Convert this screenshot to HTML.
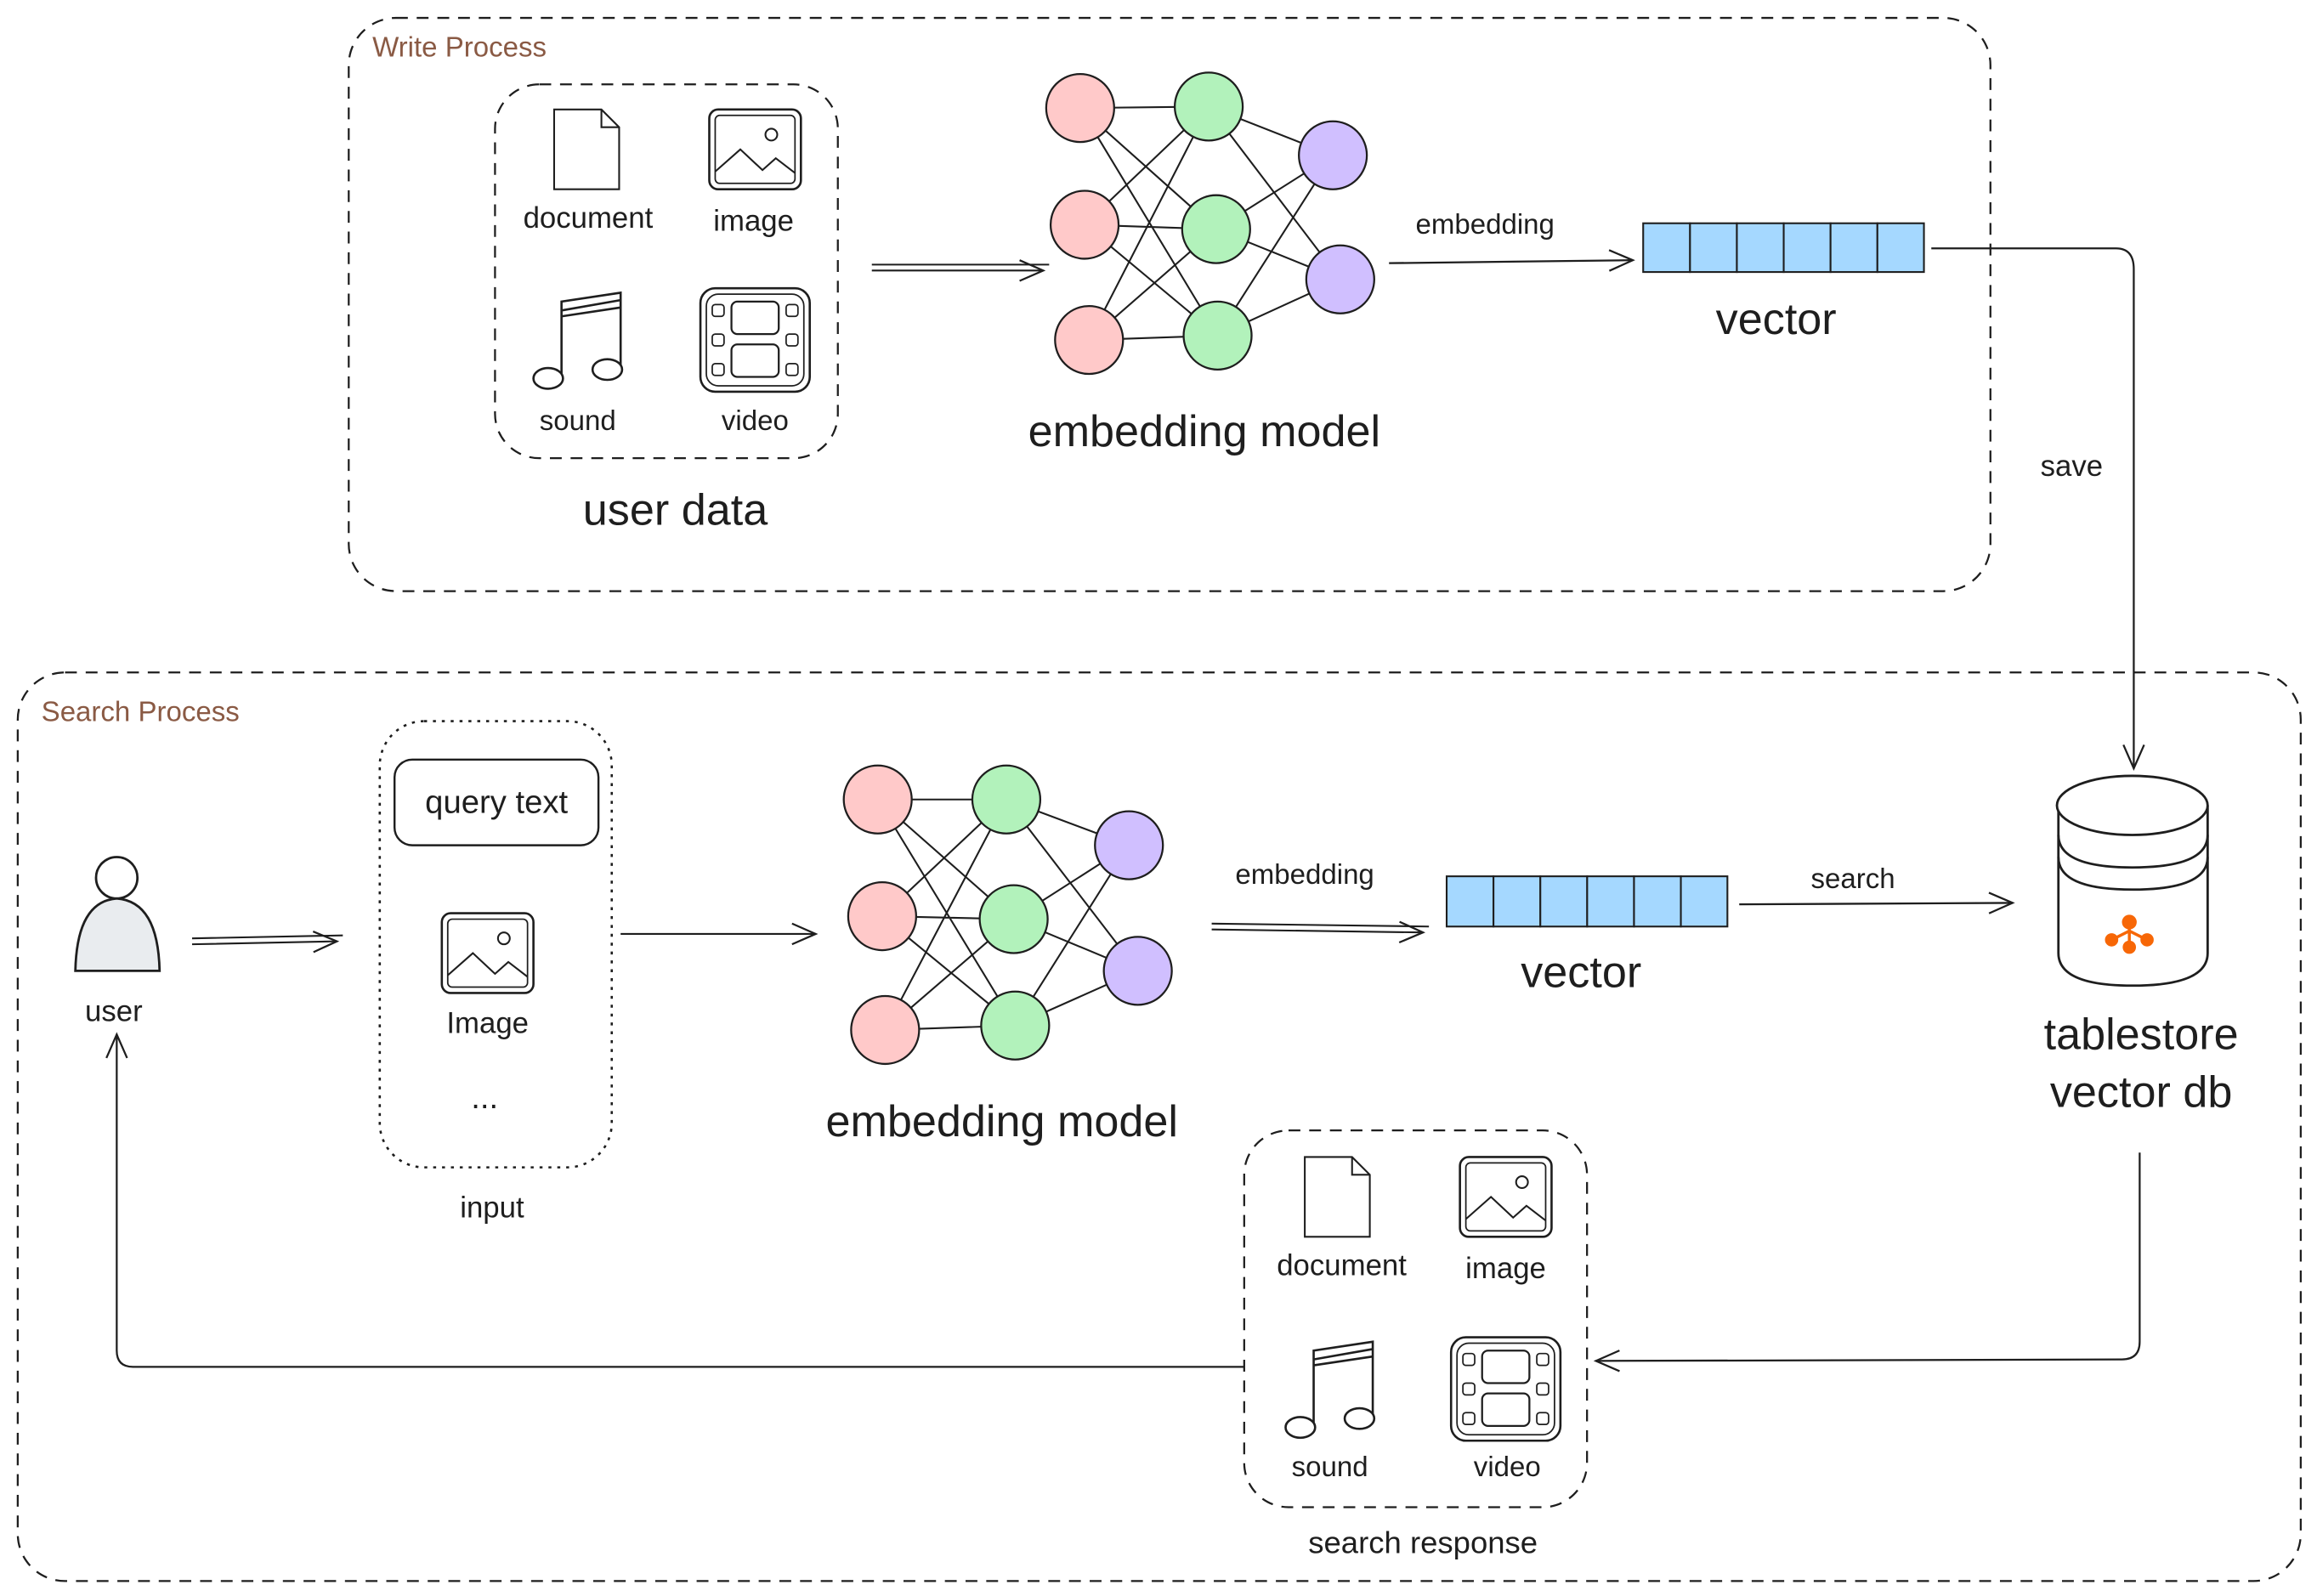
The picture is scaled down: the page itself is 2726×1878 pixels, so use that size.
<!DOCTYPE html>
<html><head><meta charset="utf-8"><style>
html,body{margin:0;padding:0;background:#fff;}
svg{display:block;}
text{font-family:"Liberation Sans",sans-serif;fill:#1e1e1e;text-anchor:middle;}
</style></head><body>
<svg width="2726" height="1878" viewBox="0 0 1568 1080" xmlns="http://www.w3.org/2000/svg">
<defs>
<marker id="ah" markerWidth="20" markerHeight="20" refX="18" refY="10" orient="auto" markerUnits="userSpaceOnUse">
<path d="M2,3 L18,10 L2,17" fill="none" stroke="#1e1e1e" stroke-width="1.3"/>
</marker>
<g id="doc"><path d="M-22,-27 H10 L22,-15 V27 H-22 Z M10,-27 V-15 H22" fill="#fff" stroke="#1e1e1e" stroke-width="1.2"/></g>
<g id="img"><rect x="-31" y="-27" width="62" height="54" rx="6" fill="#fff" stroke="#1e1e1e" stroke-width="1.5"/><rect x="-27" y="-23" width="54" height="46" rx="3" fill="none" stroke="#1e1e1e" stroke-width="1"/><circle cx="11" cy="-10" r="4" fill="none" stroke="#1e1e1e" stroke-width="1.2"/><path d="M-27,15 L-10,0 L5,14 L14,6 L27,16" fill="none" stroke="#1e1e1e" stroke-width="1.2"/></g>
<g id="snd"><path d="M-12,22 V-28 L28,-34 V16 M-12,-18 L28,-24 M-12,-22 L28,-29" fill="none" stroke="#1e1e1e" stroke-width="1.5"/><ellipse cx="-21" cy="24" rx="10" ry="7" fill="#fff" stroke="#1e1e1e" stroke-width="1.5"/><ellipse cx="19" cy="18" rx="10" ry="7" fill="#fff" stroke="#1e1e1e" stroke-width="1.5"/></g>
<g id="vid"><rect x="-37" y="-35" width="74" height="70" rx="10" fill="#fff" stroke="#1e1e1e" stroke-width="1.5"/><rect x="-33" y="-31" width="66" height="62" rx="8" fill="none" stroke="#1e1e1e" stroke-width="1"/>
<rect x="-16" y="-26" width="32" height="22" rx="4" fill="none" stroke="#1e1e1e" stroke-width="1.3"/><rect x="-16" y="3" width="32" height="22" rx="4" fill="none" stroke="#1e1e1e" stroke-width="1.3"/>
<rect x="-29" y="-24" width="8" height="8" rx="2" fill="none" stroke="#1e1e1e"/><rect x="-29" y="-4" width="8" height="8" rx="2" fill="none" stroke="#1e1e1e"/><rect x="-29" y="16" width="8" height="8" rx="2" fill="none" stroke="#1e1e1e"/>
<rect x="21" y="-24" width="8" height="8" rx="2" fill="none" stroke="#1e1e1e"/><rect x="21" y="-4" width="8" height="8" rx="2" fill="none" stroke="#1e1e1e"/><rect x="21" y="16" width="8" height="8" rx="2" fill="none" stroke="#1e1e1e"/></g>
</defs>

<!-- Write Process -->
<rect x="236" y="12" width="1111" height="388" rx="32" fill="none" stroke="#1e1e1e" stroke-width="1.3" stroke-dasharray="8 6"/>
<text x="252" y="38" font-size="19" fill="#8a5a44" style="text-anchor:start;fill:#8a5a44">Write Process</text>
<rect x="335" y="57" width="232" height="253" rx="30" fill="none" stroke="#1e1e1e" stroke-width="1.3" stroke-dasharray="8 6"/>
<use href="#doc" x="397" y="101"/><use href="#img" x="511" y="101"/>
<use href="#snd" x="392" y="232"/><use href="#vid" x="511" y="230"/>
<text x="398" y="154" font-size="20">document</text><text x="510" y="156" font-size="20">image</text>
<text x="391" y="291" font-size="19">sound</text><text x="511" y="291" font-size="19">video</text>
<text x="457" y="355" font-size="30">user data</text>
<path d="M590,179 H710 M590,183 H706" stroke="#1e1e1e" stroke-width="1.2" marker-end="url(#ah)"/>

<g stroke="#1e1e1e" stroke-width="1.2">
<path d="M731,73 L818,72 M731,73 L823,155 M731,73 L824,227 M734,152 L818,72 M734,152 L823,155 M734,152 L824,227 M737,230 L818,72 M737,230 L823,155 M737,230 L824,227 M818,72 L902,105 M818,72 L907,189 M823,155 L902,105 M823,155 L907,189 M824,227 L902,105 M824,227 L907,189"/>
</g>
<g stroke="#1e1e1e" stroke-width="1.3">
<circle cx="731" cy="73" r="23" fill="#ffc9c9"/><circle cx="734" cy="152" r="23" fill="#ffc9c9"/><circle cx="737" cy="230" r="23" fill="#ffc9c9"/>
<circle cx="818" cy="72" r="23" fill="#b2f2bb"/><circle cx="823" cy="155" r="23" fill="#b2f2bb"/><circle cx="824" cy="227" r="23" fill="#b2f2bb"/>
<circle cx="902" cy="105" r="23" fill="#d0bfff"/><circle cx="907" cy="189" r="23" fill="#d0bfff"/>
</g>
<text x="815" y="302" font-size="30">embedding model</text>
<text x="1005" y="158" font-size="19">embedding</text>
<path d="M940,178 L1105,176" stroke="#1e1e1e" stroke-width="1.3" marker-end="url(#ah)"/>
<g fill="#a5d8ff" stroke="#1e1e1e" stroke-width="1.2">
<rect x="1112" y="151" width="31.7" height="33"/><rect x="1143.7" y="151" width="31.7" height="33"/><rect x="1175.4" y="151" width="31.7" height="33"/><rect x="1207.1" y="151" width="31.7" height="33"/><rect x="1238.8" y="151" width="31.7" height="33"/><rect x="1270.5" y="151" width="31.5" height="33"/>
</g>
<text x="1202" y="226" font-size="30">vector</text>
<path d="M1307,168 H1432 Q1444,168 1444,182 V520" fill="none" stroke="#1e1e1e" stroke-width="1.3" marker-end="url(#ah)"/>
<text x="1402" y="322" font-size="20">save</text>

<!-- Search Process -->
<rect x="12" y="455" width="1545" height="615" rx="32" fill="none" stroke="#1e1e1e" stroke-width="1.3" stroke-dasharray="8 6"/>
<text x="28" y="488" font-size="19" style="text-anchor:start;fill:#8a5a44">Search Process</text>
<circle cx="79" cy="594" r="14" fill="#fff" stroke="#1e1e1e" stroke-width="1.6"/>
<path d="M51,657 Q52,610 79,608 Q107,610 108,657 Z" fill="#e9ecef" stroke="#1e1e1e" stroke-width="1.6"/>
<text x="77" y="691" font-size="20">user</text>
<path d="M130,635 L232,633 M130,639 L228,637" stroke="#1e1e1e" stroke-width="1.2" marker-end="url(#ah)"/>
<rect x="257" y="488" width="157" height="302" rx="30" fill="none" stroke="#1e1e1e" stroke-width="1.5" stroke-dasharray="2 4"/>
<rect x="267" y="514" width="138" height="58" rx="12" fill="#fff" stroke="#1e1e1e" stroke-width="1.4"/>
<text x="336" y="550" font-size="22">query text</text>
<use href="#img" x="330" y="645"/>
<text x="330" y="699" font-size="20">Image</text>
<text x="328" y="750" font-size="22">...</text>
<text x="333" y="824" font-size="20">input</text>
<path d="M420,632 L552,632" stroke="#1e1e1e" stroke-width="1.2" marker-end="url(#ah)"/>

<g stroke="#1e1e1e" stroke-width="1.2">
<path d="M594,541 L681,541 M594,541 L686,622 M594,541 L687,694 M597,620 L681,541 M597,620 L686,622 M597,620 L687,694 M599,697 L681,541 M599,697 L686,622 M599,697 L687,694 M681,541 L764,572 M681,541 L770,657 M686,622 L764,572 M686,622 L770,657 M687,694 L764,572 M687,694 L770,657"/>
</g>
<g stroke="#1e1e1e" stroke-width="1.3">
<circle cx="594" cy="541" r="23" fill="#ffc9c9"/><circle cx="597" cy="620" r="23" fill="#ffc9c9"/><circle cx="599" cy="697" r="23" fill="#ffc9c9"/>
<circle cx="681" cy="541" r="23" fill="#b2f2bb"/><circle cx="686" cy="622" r="23" fill="#b2f2bb"/><circle cx="687" cy="694" r="23" fill="#b2f2bb"/>
<circle cx="764" cy="572" r="23" fill="#d0bfff"/><circle cx="770" cy="657" r="23" fill="#d0bfff"/>
</g>
<text x="678" y="769" font-size="30">embedding model</text>
<text x="883" y="598" font-size="19">embedding</text>
<path d="M820,625 L967,627 M820,629 L963,631" stroke="#1e1e1e" stroke-width="1.2" marker-end="url(#ah)"/>
<g fill="#a5d8ff" stroke="#1e1e1e" stroke-width="1.2">
<rect x="979" y="593" width="31.7" height="34"/><rect x="1010.7" y="593" width="31.7" height="34"/><rect x="1042.4" y="593" width="31.7" height="34"/><rect x="1074.1" y="593" width="31.7" height="34"/><rect x="1105.8" y="593" width="31.7" height="34"/><rect x="1137.5" y="593" width="31.5" height="34"/>
</g>
<text x="1070" y="668" font-size="30">vector</text>
<text x="1254" y="601" font-size="19">search</text>
<path d="M1177,612 L1362,611" stroke="#1e1e1e" stroke-width="1.3" marker-end="url(#ah)"/>

<!-- DB -->
<path d="M1393,545 V645 Q1393,667 1443,667 Q1494,667 1494,645 V545" fill="#fff" stroke="#1e1e1e" stroke-width="1.6"/>
<ellipse cx="1443" cy="545" rx="51" ry="20" fill="#fff" stroke="#1e1e1e" stroke-width="1.6"/>
<path d="M1393,565 Q1393,587 1443,587 Q1494,587 1494,565" fill="none" stroke="#1e1e1e" stroke-width="1.6"/>
<path d="M1393,580 Q1393,602 1443,602 Q1494,602 1494,580" fill="none" stroke="#1e1e1e" stroke-width="1.6"/>
<g fill="#f76707" stroke="#f76707" stroke-width="2"><circle cx="1441" cy="624" r="4"/><circle cx="1429" cy="636" r="3.5"/><circle cx="1441" cy="641" r="3.5"/><circle cx="1453" cy="636" r="3.5"/><path d="M1441,624 V641 M1441,630 L1429,636 M1441,630 L1453,636" fill="none"/></g>
<text x="1449" y="710" font-size="30">tablestore</text>
<text x="1449" y="749" font-size="30">vector db</text>
<path d="M1448,780 V908 Q1448,920 1436,920 L1080,921" fill="none" stroke="#1e1e1e" stroke-width="1.3" marker-end="url(#ah)"/>

<rect x="842" y="765" width="232" height="255" rx="30" fill="none" stroke="#1e1e1e" stroke-width="1.3" stroke-dasharray="8 6"/>
<use href="#doc" x="905" y="810"/><use href="#img" x="1019" y="810"/>
<use href="#snd" x="901" y="942"/><use href="#vid" x="1019" y="940"/>
<text x="908" y="863" font-size="20">document</text><text x="1019" y="865" font-size="20">image</text>
<text x="900" y="999" font-size="19">sound</text><text x="1020" y="999" font-size="19">video</text>
<text x="963" y="1051" font-size="21">search response</text>
<path d="M842,925 H90 Q79,925 79,914 V700" fill="none" stroke="#1e1e1e" stroke-width="1.3" marker-end="url(#ah)"/>
</svg>
</body></html>
